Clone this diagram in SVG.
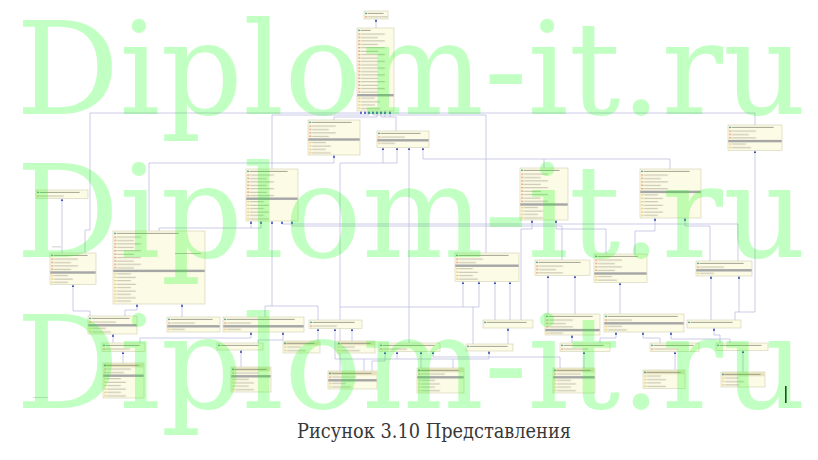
<svg xmlns="http://www.w3.org/2000/svg" width="818" height="460" viewBox="0 0 818 460">
<style>
.bx{fill:#fbfbe6;stroke:#d2d0b0;stroke-width:0.6}
.th{fill:#e6e2bc}
.hi{fill:#3c9a8c}
.ht{fill:#9a9a8a}
.bar{fill:#a6a6a6}
.cn{fill:none;stroke:#b6b6dc;stroke-width:0.7;marker-end:url(#ar)}
.ln{fill:none;stroke:#b6b6dc;stroke-width:0.7}
.wm{font-family:"DejaVu Serif","Liberation Serif",serif;font-size:130px;fill:#00ff00;fill-opacity:0.24}
.cap{font-family:"DejaVu Serif Condensed","DejaVu Serif","Liberation Serif",serif;font-size:20px;fill:#383838}
</style>
<defs>
<marker id="ar" viewBox="0 0 6 6" refX="6" refY="3" markerWidth="2.8" markerHeight="2.8" markerUnits="userSpaceOnUse" orient="auto">
<path d="M0,0L6,3L0,6z" fill="#3548b8"/>
</marker>
<pattern id="ra" patternUnits="userSpaceOnUse" width="300" height="6.8">
<rect x="1.2" y="0.9" width="1.4" height="1.4" fill="#e07048"/><rect x="3.6" y="1.3" width="24" height="0.8" fill="#b3ad98"/>
<rect x="1.2" y="4.3" width="1.4" height="1.4" fill="#e07048"/><rect x="3.6" y="4.7" width="17" height="0.8" fill="#b3ad98"/>
</pattern>
<pattern id="rm" patternUnits="userSpaceOnUse" width="300" height="6.8">
<rect x="1.2" y="0.9" width="1.4" height="1.4" fill="#e8b040"/><rect x="3.6" y="1.3" width="14" height="0.8" fill="#b3ad98"/>
<rect x="1.2" y="4.3" width="1.4" height="1.4" fill="#e8b040"/><rect x="3.6" y="4.7" width="19" height="0.8" fill="#b3ad98"/>
</pattern>
</defs>
<rect width="818" height="460" fill="#ffffff"/>

<g id="connectors">
<path class="cn" d="M376,28V19"/>
<path class="cn" d="M85,253V230H90V113H361V111"/>
<path class="cn" d="M755,125V113H365V111"/>
<path class="cn" d="M272,169V115H369V111"/>
<path class="cn" d="M486,253V115H373V111"/>
<path class="cn" d="M334,120V117H377V111"/>
<path class="cn" d="M396,131V117H381V111"/>
<path class="cn" d="M385,117V111"/>
<path class="cn" d="M390,117V111"/>
<path class="cn" d="M149,231V163H334V155"/>
<path class="cn" d="M340,371V163H383V147.5"/>
<path class="cn" d="M383,163H397V147.5"/>
<path class="cn" d="M409,343V147.5"/>
<path class="cn" d="M670,169V159H423V147.5"/>
<path class="ln" d="M544,168V159"/>
<path class="cn" d="M159,231V228H261V221"/>
<path class="cn" d="M251,228V221"/>
<path class="cn" d="M738,261V224H282V221"/>
<path class="cn" d="M562,260V226H292V221"/>
<path class="cn" d="M606,254V229H556V220"/>
<path class="cn" d="M521,320V229H532V220"/>
<path class="cn" d="M635,254V231H655V218"/>
<path class="cn" d="M710,261V226H685V218"/>
<path class="cn" d="M62,253V198.5"/>
<path class="cn" d="M90,316V311H73V284.5"/>
<path class="cn" d="M125,316V310H137V304"/>
<path class="cn" d="M182,317V304"/>
<path class="cn" d="M265,317V306H272V221"/>
<path class="ln" d="M318,320V306H272"/>
<path class="cn" d="M318,341V328.5"/>
<path class="cn" d="M352,341V328.5"/>
<path class="cn" d="M364,371V359H335V328.5"/>
<path class="cn" d="M372,371V361H385V351.5"/>
<path class="cn" d="M421,368V351.5"/>
<path class="cn" d="M560,368V357H433V351.5"/>
<path class="cn" d="M453,368V359H489V351"/>
<path class="ln" d="M364,359H453"/>
<path class="cn" d="M397,359V351.5"/>
<path class="cn" d="M123,363V351.5"/>
<path class="cn" d="M241,367V350"/>
<path class="cn" d="M113,343V334"/>
<path class="cn" d="M140,343V338H251V332"/>
<path class="cn" d="M258,343V340H283V332"/>
<path class="cn" d="M495,320V281.5"/>
<path class="ln" d="M473,344V307"/>
<path class="cn" d="M340,307H479V281.5"/>
<path class="cn" d="M463,307V281.5"/>
<path class="cn" d="M510,320V281.5"/>
<path class="cn" d="M508,344V328"/>
<path class="cn" d="M575,314V275.5"/>
<path class="cn" d="M548,314V275.5"/>
<path class="cn" d="M620,314V282.5"/>
<path class="cn" d="M572,343V335"/>
<path class="cn" d="M584,368V351.5"/>
<path class="cn" d="M600,343V338H616V332"/>
<path class="cn" d="M660,343V338H643V332"/>
<path class="cn" d="M730,343V339H671V332"/>
<path class="cn" d="M675,370V351.5"/>
<path class="cn" d="M711,320V276"/>
<path class="cn" d="M735,320V312H755V150.5"/>
<path class="cn" d="M739,312V276"/>
<path class="cn" d="M720,343V335H714V328"/>
<path class="cn" d="M743,372V350.5"/>
<rect x="52" y="246.5" width="9" height="0.8" fill="#c4c4c4"/>
</g>

<g id="n-t0" transform="translate(364,11)"><rect class="bx" width="24" height="8"/><circle class="hi" cx="2" cy="2.3" r=".9"/><rect class="ht" x="3.6" y="1.9" width="16" height=".9"/><g transform="translate(.3,4.3)"><rect fill="url(#ra)" width="23.4" height="3.4"/></g></g>

<g id="n-main" transform="translate(357,28)"><rect class="bx" width="37" height="83"/><circle class="hi" cx="2" cy="2.3" r=".9"/><rect class="ht" x="3.6" y="1.9" width="10" height=".9"/><g transform="translate(.3,4.5)"><rect fill="url(#ra)" width="36.4" height="61.2"/></g><rect class="bar" x=".3" y="66" width="36.4" height="2.4"/><g transform="translate(.3,68.6)"><rect fill="url(#rm)" width="36.4" height="13.6"/></g></g>

<g id="n-a" transform="translate(308,120)"><rect class="bx" width="52" height="35"/><circle class="hi" cx="2" cy="2.3" r=".9"/><rect class="ht" x="3.6" y="1.9" width="40" height=".9"/><g transform="translate(.3,4.5)"><rect fill="url(#ra)" width="51.4" height="13.6"/></g><rect class="bar" x=".3" y="18.3" width="51.4" height="2.4"/><g transform="translate(.3,20.9)"><rect fill="url(#rm)" width="51.4" height="13.6"/></g></g>

<g id="n-b" transform="translate(377,131)"><rect class="bx" width="52" height="16.5"/><circle class="hi" cx="2" cy="2.3" r=".9"/><rect class="ht" x="3.6" y="1.9" width="40" height=".9"/><g transform="translate(.3,4.5)"><rect fill="url(#ra)" width="51.4" height="3.4"/></g><rect class="bar" x=".3" y="8.1" width="51.4" height="2.4"/><g transform="translate(.3,10.7)"><rect fill="url(#rm)" width="51.4" height="3.4"/></g></g>

<g id="n-g" transform="translate(728,125)"><rect class="bx" width="54" height="25.5"/><circle class="hi" cx="2" cy="2.3" r=".9"/><rect class="ht" x="3.6" y="1.9" width="42" height=".9"/><g transform="translate(.3,4.5)"><rect fill="url(#ra)" width="53.4" height="10.2"/></g><rect class="bar" x=".3" y="14.9" width="53.4" height="2.4"/><g transform="translate(.3,17.5)"><rect fill="url(#rm)" width="53.4" height="6.8"/></g></g>

<g id="n-e" transform="translate(36,190)"><rect class="bx" width="52" height="8.5"/><circle class="hi" cx="2" cy="2.3" r=".9"/><rect class="ht" x="3.6" y="1.9" width="40" height=".9"/><g transform="translate(.3,4.5)"><rect fill="url(#ra)" width="51.4" height="3.4"/></g></g>

<g id="n-d" transform="translate(246,169)"><rect class="bx" width="52" height="52"/><circle class="hi" cx="2" cy="2.3" r=".9"/><rect class="ht" x="3.6" y="1.9" width="38" height=".9"/><g transform="translate(.3,4.5)"><rect fill="url(#ra)" width="51.4" height="23.8"/></g><rect class="bar" x=".3" y="28.5" width="51.4" height="2.4"/><g transform="translate(.3,31.1)"><rect fill="url(#rm)" width="51.4" height="20.4"/></g></g>

<g id="n-i" transform="translate(520,168)"><rect class="bx" width="48" height="52"/><circle class="hi" cx="2" cy="2.3" r=".9"/><rect class="ht" x="3.6" y="1.9" width="36" height=".9"/><g transform="translate(.3,4.5)"><rect fill="url(#ra)" width="47.4" height="30.6"/></g><rect class="bar" x=".3" y="35.3" width="47.4" height="2.4"/><g transform="translate(.3,37.9)"><rect fill="url(#rm)" width="47.4" height="13.6"/></g></g>

<g id="n-j" transform="translate(640,169)"><rect class="bx" width="61" height="49"/><circle class="hi" cx="2" cy="2.3" r=".9"/><rect class="ht" x="3.6" y="1.9" width="46" height=".9"/><g transform="translate(.3,4.5)"><rect fill="url(#ra)" width="60.4" height="17"/></g><rect class="bar" x=".3" y="21.7" width="60.4" height="2.4"/><g transform="translate(.3,24.3)"><rect fill="url(#rm)" width="60.4" height="23.8"/></g></g>

<g id="n-c" transform="translate(113,231)"><rect class="bx" width="92" height="73"/><circle class="hi" cx="2" cy="2.3" r=".9"/><rect class="ht" x="3.6" y="1.9" width="62" height=".9"/><g transform="translate(.3,4.5)"><rect fill="url(#ra)" width="91.4" height="34"/></g><rect x="62" y="22" width="26" height=".8" fill="#b3ad98"/><rect class="bar" x=".3" y="38.7" width="91.4" height="2.4"/><g transform="translate(.3,41.3)"><rect fill="url(#rm)" width="91.4" height="30.6"/></g></g>

<g id="n-f" transform="translate(50,253)"><rect class="bx" width="46" height="31.5"/><circle class="hi" cx="2" cy="2.3" r=".9"/><rect class="ht" x="3.6" y="1.9" width="34" height=".9"/><g transform="translate(.3,4.5)"><rect fill="url(#ra)" width="45.4" height="13.6"/></g><rect class="bar" x=".3" y="18.3" width="45.4" height="2.4"/><g transform="translate(.3,20.9)"><rect fill="url(#rm)" width="45.4" height="10.2"/></g></g>

<g id="n-h" transform="translate(455,253)"><rect class="bx" width="64" height="28.5"/><circle class="hi" cx="2" cy="2.3" r=".9"/><rect class="ht" x="3.6" y="1.9" width="50" height=".9"/><g transform="translate(.3,4.5)"><rect fill="url(#ra)" width="63.4" height="6.8"/></g><rect class="bar" x=".3" y="11.5" width="63.4" height="2.4"/><g transform="translate(.3,14.1)"><rect fill="url(#rm)" width="63.4" height="13.6"/></g></g>

<g id="n-k" transform="translate(535,260)"><rect class="bx" width="55" height="15.5"/><circle class="hi" cx="2" cy="2.3" r=".9"/><rect class="ht" x="3.6" y="1.9" width="42" height=".9"/><g transform="translate(.3,4.5)"><rect fill="url(#ra)" width="54.4" height="10.2"/></g></g>

<g id="n-l" transform="translate(594,254)"><rect class="bx" width="53" height="28.5"/><circle class="hi" cx="2" cy="2.3" r=".9"/><rect class="ht" x="3.6" y="1.9" width="40" height=".9"/><g transform="translate(.3,4.5)"><rect fill="url(#ra)" width="52.4" height="13.6"/></g><rect class="bar" x=".3" y="18.3" width="52.4" height="2.4"/><g transform="translate(.3,20.9)"><rect fill="url(#rm)" width="52.4" height="6.8"/></g></g>

<g id="n-m" transform="translate(696,261)"><rect class="bx" width="56" height="15"/><circle class="hi" cx="2" cy="2.3" r=".9"/><rect class="ht" x="3.6" y="1.9" width="44" height=".9"/><g transform="translate(.3,4.5)"><rect fill="url(#ra)" width="55.4" height="3.4"/></g><rect class="bar" x=".3" y="8.1" width="55.4" height="2.4"/><g transform="translate(.3,10.7)"><rect fill="url(#rm)" width="55.4" height="3.4"/></g></g>

<g id="n-n" transform="translate(88,316)"><rect class="bx" width="49" height="18"/><circle class="hi" cx="2" cy="2.3" r=".9"/><rect class="ht" x="3.6" y="1.9" width="38" height=".9"/><g transform="translate(.3,4.5)"><rect fill="url(#ra)" width="48.4" height="3.4"/></g><rect class="bar" x=".3" y="8.1" width="48.4" height="2.4"/><g transform="translate(.3,10.7)"><rect fill="url(#rm)" width="48.4" height="6.8"/></g></g>

<g id="n-o" transform="translate(167,317)"><rect class="bx" width="53" height="15"/><circle class="hi" cx="2" cy="2.3" r=".9"/><rect class="ht" x="3.6" y="1.9" width="42" height=".9"/><g transform="translate(.3,4.5)"><rect fill="url(#ra)" width="52.4" height="3.4"/></g><rect class="bar" x=".3" y="8.1" width="52.4" height="2.4"/><g transform="translate(.3,10.7)"><rect fill="url(#rm)" width="52.4" height="3.4"/></g></g>

<g id="n-p" transform="translate(223,317)"><rect class="bx" width="81" height="15"/><circle class="hi" cx="2" cy="2.3" r=".9"/><rect class="ht" x="3.6" y="1.9" width="68" height=".9"/><g transform="translate(.3,4.5)"><rect fill="url(#ra)" width="80.4" height="3.4"/></g><rect class="bar" x=".3" y="8.1" width="80.4" height="2.4"/><g transform="translate(.3,10.7)"><rect fill="url(#rm)" width="80.4" height="3.4"/></g></g>

<g id="n-q" transform="translate(309,320)"><rect class="bx" width="53" height="8.5"/><circle class="hi" cx="2" cy="2.3" r=".9"/><rect class="ht" x="3.6" y="1.9" width="42" height=".9"/><g transform="translate(.3,4.5)"><rect fill="url(#ra)" width="52.4" height="3.4"/></g></g>

<g id="n-aa" transform="translate(483,320)"><rect class="bx" width="50" height="8"/><circle class="hi" cx="2" cy="2.3" r=".9"/><rect class="ht" x="3.6" y="1.9" width="40" height=".9"/></g>

<g id="n-ab" transform="translate(545,314)"><rect class="bx" width="55" height="21"/><circle class="hi" cx="2" cy="2.3" r=".9"/><rect class="ht" x="3.6" y="1.9" width="44" height=".9"/><g transform="translate(.3,4.5)"><rect fill="url(#ra)" width="54.4" height="10.2"/></g><rect class="bar" x=".3" y="14.9" width="54.4" height="2.4"/><g transform="translate(.3,17.5)"><rect fill="url(#rm)" width="54.4" height="3.4"/></g></g>

<g id="n-ac" transform="translate(604,314)"><rect class="bx" width="80" height="18"/><circle class="hi" cx="2" cy="2.3" r=".9"/><rect class="ht" x="3.6" y="1.9" width="70" height=".9"/><g transform="translate(.3,4.5)"><rect fill="url(#ra)" width="79.4" height="3.4"/></g><rect class="bar" x=".3" y="8.1" width="79.4" height="2.4"/><g transform="translate(.3,10.7)"><rect fill="url(#rm)" width="79.4" height="6.8"/></g></g>

<g id="n-ad" transform="translate(687,320)"><rect class="bx" width="54" height="8"/><circle class="hi" cx="2" cy="2.3" r=".9"/><rect class="ht" x="3.6" y="1.9" width="42" height=".9"/></g>

<g id="n-u" transform="translate(102,343)"><rect class="bx" width="43" height="8.5"/><circle class="hi" cx="2" cy="2.3" r=".9"/><rect class="ht" x="3.6" y="1.9" width="34" height=".9"/><g transform="translate(.3,4.5)"><rect fill="url(#ra)" width="42.4" height="3.4"/></g></g>

<g id="n-v" transform="translate(217,343)"><rect class="bx" width="46" height="7"/><circle class="hi" cx="2" cy="2.3" r=".9"/><rect class="ht" x="3.6" y="1.9" width="38" height=".9"/></g>

<g id="n-r" transform="translate(283,341)"><rect class="bx" width="37" height="12"/><rect class="th" x=".3" y=".3" width="36.4" height="4"/><circle class="hi" cx="2" cy="2.3" r=".9"/><rect class="ht" x="3.6" y="1.9" width="28" height=".9"/><g transform="translate(.3,4.5)"><rect fill="url(#rm)" width="36.4" height="6.8"/></g></g>

<g id="n-s" transform="translate(337,341)"><rect class="bx" width="38" height="12"/><rect class="th" x=".3" y=".3" width="37.4" height="4"/><circle class="hi" cx="2" cy="2.3" r=".9"/><rect class="ht" x="3.6" y="1.9" width="30" height=".9"/><g transform="translate(.3,4.5)"><rect fill="url(#rm)" width="37.4" height="6.8"/></g></g>

<g id="n-t" transform="translate(379,343)"><rect class="bx" width="61" height="8.5"/><circle class="hi" cx="2" cy="2.3" r=".9"/><rect class="ht" x="3.6" y="1.9" width="52" height=".9"/><g transform="translate(.3,4.5)"><rect fill="url(#ra)" width="60.4" height="3.4"/></g></g>

<g id="n-ae" transform="translate(466,344)"><rect class="bx" width="47" height="7"/><circle class="hi" cx="2" cy="2.3" r=".9"/><rect class="ht" x="3.6" y="1.9" width="38" height=".9"/></g>

<g id="n-af" transform="translate(560,343)"><rect class="bx" width="50" height="8.5"/><circle class="hi" cx="2" cy="2.3" r=".9"/><rect class="ht" x="3.6" y="1.9" width="40" height=".9"/><g transform="translate(.3,4.5)"><rect fill="url(#ra)" width="49.4" height="3.4"/></g></g>

<g id="n-ag" transform="translate(650,343)"><rect class="bx" width="49" height="8.5"/><circle class="hi" cx="2" cy="2.3" r=".9"/><rect class="ht" x="3.6" y="1.9" width="40" height=".9"/><g transform="translate(.3,4.5)"><rect fill="url(#ra)" width="48.4" height="3.4"/></g></g>

<g id="n-ah" transform="translate(716,343)"><rect class="bx" width="52" height="7.5"/><circle class="hi" cx="2" cy="2.3" r=".9"/><rect class="ht" x="3.6" y="1.9" width="42" height=".9"/></g>

<g id="n-w" transform="translate(103,363)"><rect class="bx" width="41" height="35"/><rect class="th" x=".3" y=".3" width="40.4" height="4"/><circle class="hi" cx="2" cy="2.3" r=".9"/><rect class="ht" x="3.6" y="1.9" width="32" height=".9"/><g transform="translate(.3,4.5)"><rect fill="url(#ra)" width="40.4" height="6.8"/></g><rect class="bar" x=".3" y="11.5" width="40.4" height="2.4"/><g transform="translate(.3,14.1)"><rect fill="url(#rm)" width="40.4" height="20.4"/></g></g>

<g id="n-x" transform="translate(231,367)"><rect class="bx" width="40" height="25"/><rect class="th" x=".3" y=".3" width="39.4" height="4"/><circle class="hi" cx="2" cy="2.3" r=".9"/><rect class="ht" x="3.6" y="1.9" width="32" height=".9"/><g transform="translate(.3,4.5)"><rect fill="url(#ra)" width="39.4" height="3.4"/></g><rect class="bar" x=".3" y="8.1" width="39.4" height="2.4"/><g transform="translate(.3,10.7)"><rect fill="url(#rm)" width="39.4" height="13.6"/></g></g>

<g id="n-y" transform="translate(328,371)"><rect class="bx" width="49" height="18"/><rect class="th" x=".3" y=".3" width="48.4" height="4"/><circle class="hi" cx="2" cy="2.3" r=".9"/><rect class="ht" x="3.6" y="1.9" width="40" height=".9"/><g transform="translate(.3,4.5)"><rect fill="url(#ra)" width="48.4" height="3.4"/></g><rect class="bar" x=".3" y="8.1" width="48.4" height="2.4"/><g transform="translate(.3,10.7)"><rect fill="url(#rm)" width="48.4" height="6.8"/></g></g>

<g id="n-ai" transform="translate(417,368)"><rect class="bx" width="47" height="25"/><rect class="th" x=".3" y=".3" width="46.4" height="4"/><circle class="hi" cx="2" cy="2.3" r=".9"/><rect class="ht" x="3.6" y="1.9" width="38" height=".9"/><g transform="translate(.3,4.5)"><rect fill="url(#ra)" width="46.4" height="3.4"/></g><rect class="bar" x=".3" y="8.1" width="46.4" height="2.4"/><g transform="translate(.3,10.7)"><rect fill="url(#rm)" width="46.4" height="13.6"/></g></g>

<g id="n-aj" transform="translate(553,368)"><rect class="bx" width="42" height="25"/><rect class="th" x=".3" y=".3" width="41.4" height="4"/><circle class="hi" cx="2" cy="2.3" r=".9"/><rect class="ht" x="3.6" y="1.9" width="34" height=".9"/><g transform="translate(.3,4.5)"><rect fill="url(#ra)" width="41.4" height="3.4"/></g><rect class="bar" x=".3" y="8.1" width="41.4" height="2.4"/><g transform="translate(.3,10.7)"><rect fill="url(#rm)" width="41.4" height="13.6"/></g></g>

<g id="n-ak" transform="translate(643,370)"><rect class="bx" width="42" height="18.5"/><rect class="th" x=".3" y=".3" width="41.4" height="4"/><circle class="hi" cx="2" cy="2.3" r=".9"/><rect class="ht" x="3.6" y="1.9" width="34" height=".9"/><g transform="translate(.3,4.5)"><rect fill="url(#rm)" width="41.4" height="13.6"/></g></g>

<g id="n-al" transform="translate(721,372)"><rect class="bx" width="44" height="15"/><rect class="th" x=".3" y=".3" width="43.4" height="4"/><circle class="hi" cx="2" cy="2.3" r=".9"/><rect class="ht" x="3.6" y="1.9" width="36" height=".9"/><g transform="translate(.3,4.5)"><rect fill="url(#rm)" width="43.4" height="10.2"/></g></g>

<rect x="33" y="397" width="15" height="0.8" fill="#cfcfcf"/>
<rect x="785" y="386" width="1.6" height="17" fill="#222222"/>

<g id="watermark">
<text class="wm" x="16" y="114" textLength="790" lengthAdjust="spacingAndGlyphs">Diplom-it.ru</text>
<text class="wm" x="16" y="257" textLength="790" lengthAdjust="spacingAndGlyphs">Diplom-it.ru</text>
<text class="wm" x="16" y="408" textLength="790" lengthAdjust="spacingAndGlyphs">Diplom-it.ru</text>
</g>
<text class="cap" x="434" y="438" text-anchor="middle" textLength="274" lengthAdjust="spacingAndGlyphs">Рисунок 3.10 Представления</text>
</svg>
